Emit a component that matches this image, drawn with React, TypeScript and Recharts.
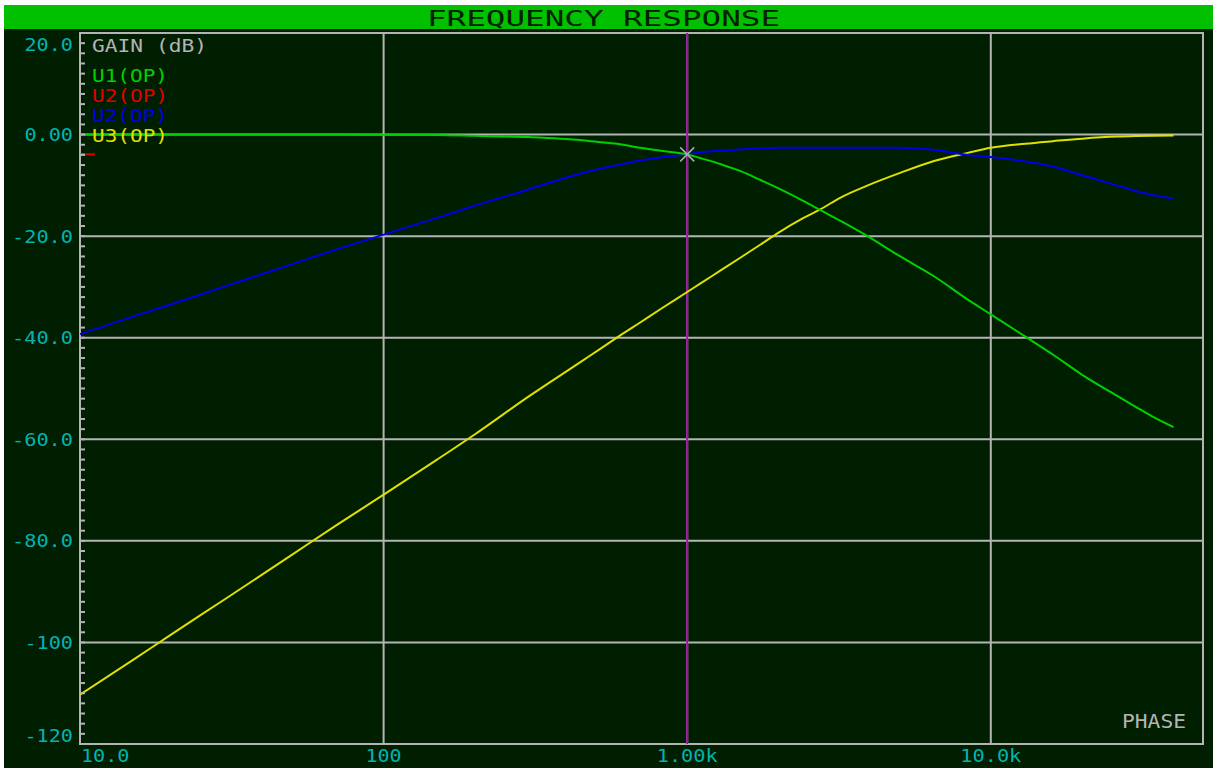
import React from 'react';
import { LineChart, Line, XAxis, YAxis, CartesianGrid, ReferenceLine, ReferenceArea, ReferenceDot } from 'recharts';

const FREQ = [10, 15, 20, 30, 50, 70, 100, 150, 200, 300, 450, 520, 600, 700, 820, 1000, 1100, 1300, 1500, 1750, 2000, 2400, 2750, 3200, 3900, 5000, 6500, 8400, 10000, 13000, 16000, 20000, 26000, 30000, 34000, 40000];

const U1_OP = [0, 0, 0, 0, 0, 0, -0.05, -0.1, -0.25, -0.5, -1.1, -1.5, -1.9, -2.6, -3.2, -3.9, -4.6, -5.9, -7.2, -9.0, -10.6, -13.0, -14.9, -17.0, -19.9, -23.9, -27.9, -32.5, -35.4, -39.8, -43.3, -47.3, -51.4, -53.6, -55.5, -57.6];

const U2_OP = [-39.3, -35.8, -33.4, -29.9, -25.5, -22.6, -19.7, -16.4, -14.0, -10.8, -7.6, -6.7, -5.9, -5.1, -4.5, -3.9, -3.5, -3.2, -2.9, -2.7, -2.6, -2.6, -2.6, -2.6, -2.6, -2.6, -3.0, -4.0, -4.4, -5.3, -6.3, -8.0, -10.0, -11.1, -11.9, -12.6];

const U3_OP = [-110.3, -103.4, -98.4, -91.5, -82.7, -76.9, -70.9, -64.0, -59.0, -51.6, -44.6, -42.1, -39.6, -37.0, -34.3, -31.0, -29.4, -26.6, -24.2, -21.6, -19.3, -16.5, -14.7, -12.4, -10.1, -7.6, -5.2, -3.6, -2.6, -1.8, -1.3, -0.8, -0.4, -0.3, -0.25, -0.2];

const X_TICKS = [10, 100, 1000, 10000];
const X_TICK_LABELS = ['10.0', '100', '1.00k', '10.0k'];
const Y_MAJOR = [20, 0, -20, -40, -60, -80, -100, -120];
const Y_TICK_LABELS = ['20.0', '0.00', '-20.0', '-40.0', '-60.0', '-80.0', '-100', '-120'];
const Y_ALL_TICKS = Array.from({ length: 71 }, (_, i) => 20 - i * 2);

const X_DOMAIN = [10, 50000];
const Y_DOMAIN = [-120, 20];

const CURSOR_FREQ = 1000;
const CURSOR_GAIN = -3.9;

const TITLE = 'FREQUENCY RESPONSE';
const AXIS_TITLE = 'GAIN (dB)';
const SERIES_NAMES = ['U1(OP)', 'U2(OP)', 'U2(OP)', 'U3(OP)'];
const SERIES_COLORS = ['#00d000', '#e00000', '#0000e8', '#e0e000'];
const PHASE_LABEL = 'PHASE';

const data = FREQ.map((f, i) => ({ f, u1: U1_OP[i], u2: U2_OP[i], u3: U3_OP[i] }));

const FONT = '"DejaVu Sans Mono", monospace';
const BG = '#001e00';
const GRID = '#b4b4b4';
const CYAN = '#00b4b4';
const TICK_MARGIN = 7;

const YTick = (p: any) => {
  const v = p.payload.value;
  const idx = Y_MAJOR.indexOf(v);
  const axisX = p.x + TICK_MARGIN;
  const minor = v !== 20 && v !== -120 ? (
    <line x1={axisX} x2={axisX + 5} y1={p.y} y2={p.y} stroke={GRID} strokeWidth={2} />
  ) : null;
  if (idx < 0) return <g>{minor}</g>;
  const label = Y_TICK_LABELS[idx];
  let dy = 6.5;
  if (v === 20) dy += 11;
  if (v === -120) dy -= 8.7;
  return (
    <g>
      {minor}
      <text x={p.x} y={p.y + dy} textAnchor="end" fill={CYAN} fontFamily={FONT} fontSize={18}
        textLength={label.length * 12.5 - 1.5} lengthAdjust="spacingAndGlyphs">{label}</text>
    </g>
  );
};

const XTick = (p: any) => {
  const v = p.payload.value;
  const idx = X_TICKS.indexOf(v);
  const label = idx >= 0 ? X_TICK_LABELS[idx] : String(v);
  const first = idx === 0;
  return (
    <text x={first ? p.x + 1 : p.x} y={p.y + 18} textAnchor={first ? 'start' : 'middle'} fill={CYAN}
      fontFamily={FONT} fontSize={18} textLength={label.length * 12.5 - 1.5} lengthAdjust="spacingAndGlyphs">{label}</text>
  );
};

const CrossShape = (p: any) => {
  const { cx, cy } = p;
  const s = 7;
  return (
    <g stroke="#a8b0a8" strokeWidth={1.5}>
      <line x1={cx - s} y1={cy - s} x2={cx + s} y2={cy + s} />
      <line x1={cx - s} y1={cy + s} x2={cx + s} y2={cy - s} />
    </g>
  );
};

export default function App() {
  const legendWidths = [76, 76, 76, 76];
  return (
    <div style={{ position: 'fixed', left: 0, top: 0, width: 1213, height: 771, background: '#ffffff', overflow: 'hidden' }}>
      <div style={{ position: 'absolute', left: 4, top: 5, width: 1209, height: 763, background: BG }} />
      <div style={{ position: 'absolute', left: 0, top: 0 }}>
        <LineChart width={1213} height={771} data={data} margin={{ top: 33, right: 10, bottom: 0, left: 0 }}>
          <CartesianGrid stroke={GRID} strokeWidth={2} horizontal={false} />
          <XAxis dataKey="f" type="number" scale="log" domain={X_DOMAIN} ticks={X_TICKS} allowDataOverflow
            interval={0} height={27} tickSize={0} tickMargin={0} axisLine={false} tickLine={false} tick={XTick} />
          <YAxis type="number" domain={Y_DOMAIN} ticks={Y_ALL_TICKS} allowDataOverflow interval={0} width={80}
            tickSize={0} tickMargin={TICK_MARGIN} axisLine={false} tickLine={false} tick={YTick} />
          {Y_MAJOR.map((v) => (
            <ReferenceLine key={v} y={v} stroke={GRID} strokeWidth={2} />
          ))}
          <ReferenceArea x1={X_DOMAIN[0]} x2={X_DOMAIN[1]} y1={Y_DOMAIN[0]} y2={Y_DOMAIN[1]} fill="none" fillOpacity={0}
            stroke={GRID} strokeWidth={2} />
          <ReferenceLine x={CURSOR_FREQ} stroke="#a010a8" strokeWidth={2} />
          <ReferenceLine segment={[{ x: 10, y: CURSOR_GAIN }, { x: 10.4, y: CURSOR_GAIN }]} stroke={CYAN} strokeWidth={2} />
          <ReferenceLine segment={[{ x: 10.4, y: CURSOR_GAIN }, { x: 11.2, y: CURSOR_GAIN }]} stroke="#e00000" strokeWidth={2} />
          <Line type="monotone" dataKey="u3" stroke={SERIES_COLORS[3]} strokeWidth={2} dot={false} isAnimationActive={false} />
          <Line type="monotone" dataKey="u2" stroke={SERIES_COLORS[2]} strokeWidth={2} dot={false} isAnimationActive={false} />
          <Line type="monotone" dataKey="u1" stroke={SERIES_COLORS[0]} strokeWidth={2} dot={false} isAnimationActive={false} />
          <ReferenceDot x={CURSOR_FREQ} y={CURSOR_GAIN} r={7} shape={CrossShape} />
        </LineChart>
      </div>
      <svg width={1213} height={771} style={{ position: 'absolute', left: 0, top: 0, pointerEvents: 'none' }}>
        <rect x={4} y={5} width={1209} height={24} fill="#00c000" />
        <text x={427} y={26} fill="#002000" fontFamily={FONT} fontSize={22} textLength={353} lengthAdjust="spacingAndGlyphs">{TITLE}</text>
        <text x={92} y={52} fill="#b4b4b4" fontFamily={FONT} fontSize={18} textLength={115} lengthAdjust="spacingAndGlyphs">{AXIS_TITLE}</text>
        {SERIES_NAMES.map((n, i) => (
          <text key={i} x={92} y={82 + i * 20} fill={SERIES_COLORS[i]} fontFamily={FONT} fontSize={18}
            textLength={legendWidths[i]} lengthAdjust="spacingAndGlyphs">{n}</text>
        ))}
        <text x={1186} y={728} textAnchor="end" fill="#b4b4b4" fontFamily={FONT} fontSize={19} textLength={64} lengthAdjust="spacingAndGlyphs">{PHASE_LABEL}</text>
      </svg>
    </div>
  );
}
